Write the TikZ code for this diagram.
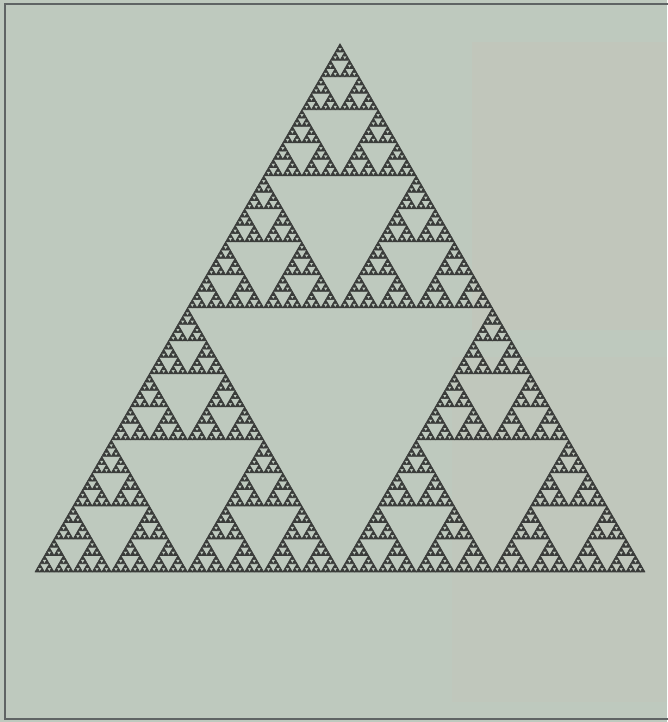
\documentclass[tikz,border=0pt]{standalone}
\definecolor{bg}{RGB}{190,201,190}
\definecolor{patch}{RGB}{196,196,186}
\definecolor{ink}{RGB}{58,60,58}
\definecolor{frame}{RGB}{95,100,100}
\tikzset{tri/.style={fill=ink,draw=ink,line width=0.6pt,line join=round}}
\newcommand\sierp[4]{%
  \ifnum#1=0
    \path[tri] (#2,#3) -- ++(#4,0) -- ++(120:#4) -- cycle;
  \else
    \begingroup
    \pgfmathsetmacro\hs{#4/2}%
    \pgfmathsetmacro\xa{#2+\hs}%
    \pgfmathsetmacro\xb{#2+\hs/2}%
    \pgfmathsetmacro\yb{#3+\hs*0.8660254}%
    \pgfmathtruncatemacro\dd{#1-1}%
    \edef\nexta{\noexpand\sierp{\dd}{#2}{#3}{\hs}}%
    \edef\nextb{\noexpand\sierp{\dd}{\xa}{#3}{\hs}}%
    \edef\nextc{\noexpand\sierp{\dd}{\xb}{\yb}{\hs}}%
    \nexta\nextb\nextc
    \endgroup
  \fi}
\begin{document}
\begin{tikzpicture}[x=1pt,y=1pt]
\useasboundingbox (0,0) rectangle (667,722);
\fill[bg] (0,0) rectangle (667,722);
\fill[patch,opacity=0.5] (472,392) rectangle (667,680);
\fill[patch,opacity=0.4] (452,20) rectangle (667,365);
\draw[frame,line width=2.5pt] (680,718) -- (5,718) -- (5,3) -- (680,3);
\sierp{7}{35}{150}{610}
\end{tikzpicture}
\end{document}
